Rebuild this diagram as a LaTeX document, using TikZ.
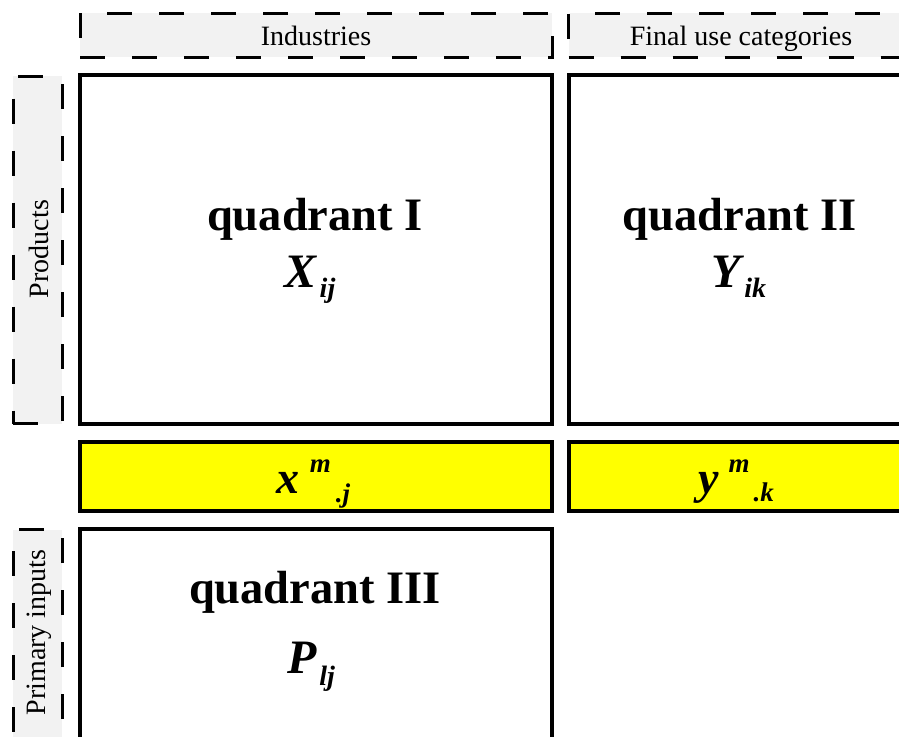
\documentclass[tikz,border=0pt]{standalone}
\usepackage{fontspec}
\setmainfont{Liberation Serif}
\definecolor{hdrgray}{HTML}{F2F2F2}
\definecolor{qyellow}{HTML}{FFFF00}
\newcommand\myvbig{\fontsize{48}{48}\selectfont\bfseries\itshape}
\newcommand\myxbig{\fontsize{46}{46}\selectfont\bfseries\itshape}
\newcommand\myvsub{\fontsize{28}{28}\selectfont\bfseries\itshape}
\newcommand\mysup{\fontsize{27}{27}\selectfont\bfseries\itshape}
\begin{document}
\begin{tikzpicture}[x=1pt,y=-1pt,
  hdrbox/.style={fill=hdrgray, draw=black, line width=3pt, dash pattern=on 25pt off 27pt, inner sep=0pt},
  quadbox/.style={draw=black, line width=4pt, fill=white, inner sep=0pt},
  ybarbox/.style={draw=black, line width=4pt, fill=qyellow, inner sep=0pt},
  hdrtext/.style={font=\fontsize{28}{28}\selectfont, inner sep=0pt},
  qtitle/.style={font=\fontsize{46.5}{46.5}\selectfont\bfseries, inner sep=0pt, anchor=base},
  vartext/.style={inner sep=0pt, anchor=base}
]
\useasboundingbox (0,0) rectangle (899,736);
\clip (0,0) rectangle (899,736);
% header boxes
\node[hdrbox, minimum width=472pt, minimum height=44pt] (hind) at (316,35) {};
\node[hdrbox, minimum width=341.5pt, minimum height=44pt] (hfin) at (739.25,35) {};
\node[hdrbox, minimum width=49pt, minimum height=347.5pt] (hprod) at (37.5,249.75) {};
\node[hdrbox, minimum width=49pt, minimum height=348.5pt] (hprim) at (37.5,703.75) {};
% quadrants
\node[quadbox, minimum width=472.5pt, minimum height=348.5pt] (q1) at (315.75,249.25) {};
\node[quadbox, minimum width=341.5pt, minimum height=348.5pt] (q2) at (739.25,249.25) {};
\node[quadbox, minimum width=472.5pt, minimum height=348.5pt] (q3) at (315.75,702.75) {};
% yellow bars
\node[ybarbox, minimum width=472.5pt, minimum height=68.5pt] (yx) at (315.75,476.25) {};
\node[ybarbox, minimum width=341.5pt, minimum height=68.5pt] (yy) at (739.25,476.25) {};
% header texts
\node[hdrtext, anchor=base] (tind) at (316,45) {Industries};
\node[hdrtext, anchor=base] (tfin) at (741,45) {Final use categories};
\node[hdrtext, rotate=90] (tprod) at (38.5,249) {Products};
\node[hdrtext, rotate=90] (tprim) at (39.5,632.5) {Primary inputs};
% quadrant titles
\node[qtitle] (t1) at (315,230) {quadrant I};
\node[qtitle] (t2) at (739.5,230) {quadrant II};
\node[qtitle] (t3) at (315,603) {quadrant III};
% variables
\node[vartext] (v1) at (310,287) {{\myvbig X}\hspace{3pt}\raisebox{-10pt}{\myvsub ij}};
\node[vartext] (v2) at (739,287) {{\myvbig Y}\hspace{3pt}\raisebox{-10pt}{\myvsub ik}};
\node[vartext] (v3) at (311,673) {{\myvbig P}\hspace{3pt}\raisebox{-12pt}{\myvsub lj}};
\node[vartext] (v4) at (313.5,493) {{\myxbig x}\hspace{10pt}\raisebox{21pt}{\mysup m}\hspace{5pt}\raisebox{-9pt}{\mysup .j}};
\node[vartext] (v5) at (736,493) {{\myxbig y}\hspace{10pt}\raisebox{21pt}{\mysup m}\hspace{4pt}\raisebox{-8pt}{\mysup .k}};
\end{tikzpicture}
\end{document}
